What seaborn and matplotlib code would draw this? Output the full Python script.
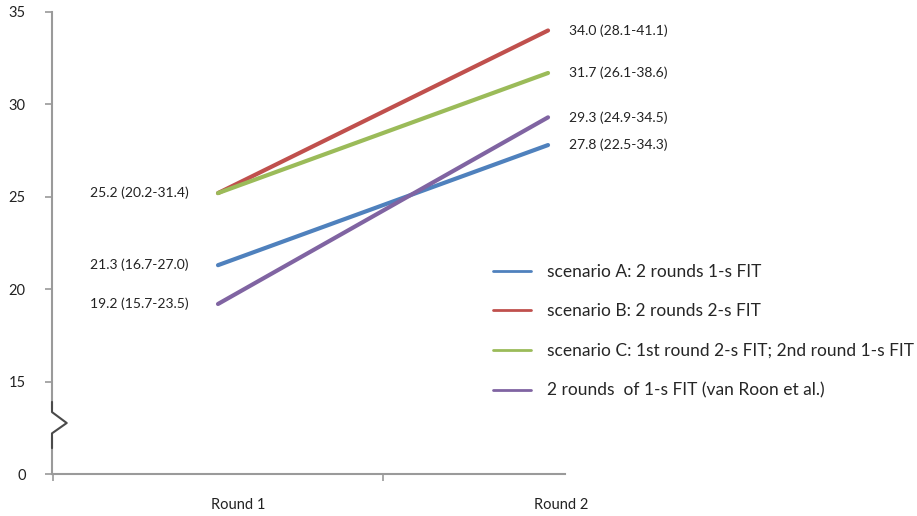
import pandas as pd
import matplotlib.pyplot as plt
import matplotlib.transforms as mtransforms
import seaborn as sns

# data
rounds = ['Round 1', 'Round 2']
scenarios = ['scenario A: 2 rounds 1-s FIT',
             'scenario B: 2 rounds 2-s FIT',
             'scenario C: 1st round 2-s FIT; 2nd round 1-s FIT',
             '2 rounds  of 1-s FIT (van Roon et al.)']
values_a = [21.3, 27.8]
values_b = [25.2, 34.0]
values_c = [25.2, 31.7]
values_vr = [19.2, 29.3]
labels_a = ['21.3 (16.7-27.0)', '27.8 (22.5-34.3)']
labels_b = ['25.2 (20.2-31.4)', '34.0 (28.1-41.1)']
labels_c = ['', '31.7 (26.1-38.6)']
labels_vr = ['19.2 (15.7-23.5)', '29.3 (24.9-34.5)']
y_ticks = [10, 15, 20, 25, 30, 35]
y_tick_labels = ['0', '15', '20', '25', '30', '35']
colors = ['#4F81BD', '#C0504D', '#9BBB59', '#8064A2']

all_values = [values_a, values_b, values_c, values_vr]
all_labels = [labels_a, labels_b, labels_c, labels_vr]

rows = []
for name, vals in zip(scenarios, all_values):
    for i, v in enumerate(vals):
        rows.append({'scenario': name, 'pos': i, 'value': v})
df = pd.DataFrame(rows)

sns.set_style('white')
plt.rcParams['font.family'] = ['Lato', 'DejaVu Sans']

fig = plt.figure(figsize=(9.17, 5.16), dpi=100)
ax = fig.add_axes([52 / 917, 42 / 516, 865 / 917, 462 / 516])

sns.lineplot(data=df, x='pos', y='value', hue='scenario', hue_order=scenarios,
             palette=colors, linewidth=3, ax=ax)

ax.set_xlim(-0.503, 2.118)
ax.set_ylim(10, 35)

# annotations
for vals, labs in zip(all_values, all_labels):
    if labs[0]:
        ax.text(-0.09, vals[0], labs[0], ha='right', va='center', fontsize=10, color='#222222')
    ax.text(1.065, vals[1], labs[1], ha='left', va='center', fontsize=10, color='#222222')

# axes styling
for s in ['top', 'right']:
    ax.spines[s].set_visible(False)
for s in ['left', 'bottom']:
    ax.spines[s].set_color('#9a9a9a')
    ax.spines[s].set_linewidth(1.5)
ax.spines['bottom'].set_bounds(-0.503, 1.05)

ax.set_yticks(y_ticks)
ax.set_yticklabels(y_tick_labels)
ax.set_xticks([-0.5, 0.5])
ax.set_xticklabels(['', ''])
ax.tick_params(axis='both', direction='out', length=5, width=1.2, color='#9a9a9a',
               labelsize=10.5, labelcolor='#222222', left=True, bottom=True)
ax.tick_params(axis='y', pad=14)
ax.set_xlabel('')
ax.set_ylabel('')

# category labels sit a bit right of the category centres, as in the original
round_trans = mtransforms.offset_copy(ax.transData, fig=fig, y=-24, units='dots')
for i, r in enumerate(rounds):
    ax.text(i + [0.06, 0.04][i], 10, r, transform=round_trans,
            ha='center', va='top', fontsize=10.5, color='#222222')

# axis break zigzag
trans = mtransforms.blended_transform_factory(ax.transAxes, ax.transData)
ax.plot([0, 0], [13.4, 12.1], color='white', lw=4, transform=trans, clip_on=False, zorder=5)
ax.plot([0, 0, 0.017, 0, 0], [13.9, 13.35, 12.76, 12.2, 11.4], color='#4a4a4a', lw=1.5,
        transform=trans, clip_on=False, zorder=6)

# legend
handles, labels = ax.get_legend_handles_labels()
leg = ax.legend(handles, labels, loc='upper left', bbox_to_anchor=(0.502, 0.47),
                frameon=False, fontsize=12.5, handlelength=2.2, handletextpad=0.9,
                labelspacing=1.36, borderaxespad=0, borderpad=0.4)
for line in leg.get_lines():
    line.set_linewidth(2)

plt.savefig('out.png', dpi=100)
